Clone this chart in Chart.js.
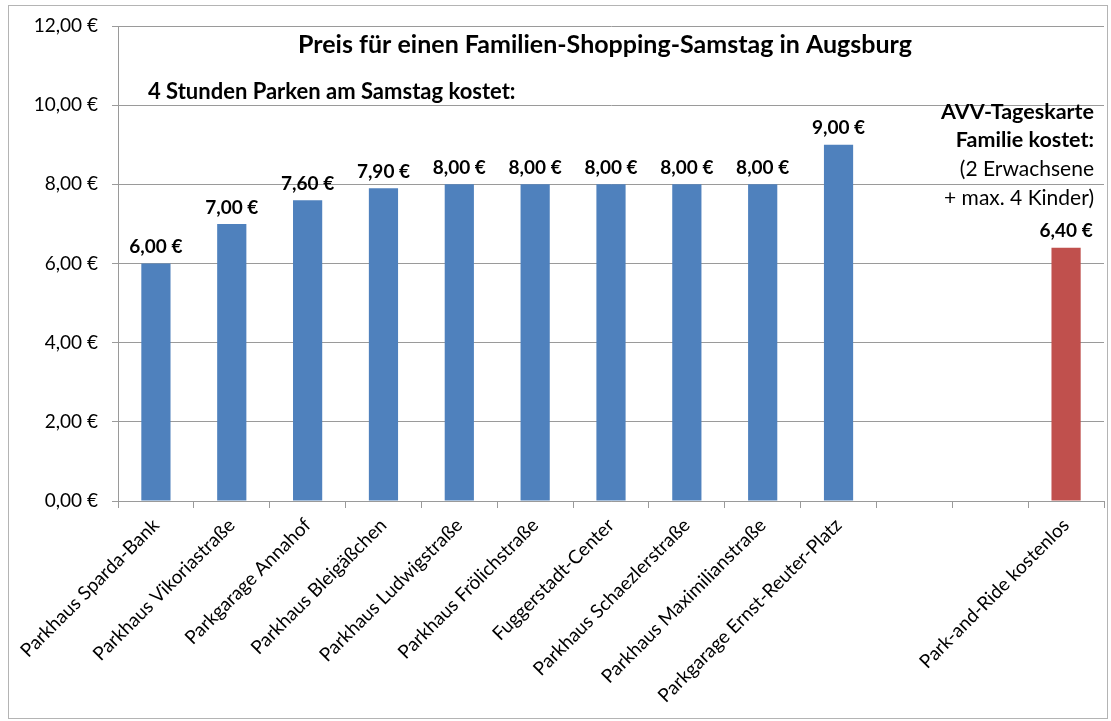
<!DOCTYPE html>
<html lang="de">
<head>
<meta charset="utf-8">
<title>Preis für einen Familien-Shopping-Samstag in Augsburg</title>
<script src="https://cdn.jsdelivr.net/npm/chart.js@4.4.1/dist/chart.umd.min.js"></script>
<style>
    html, body { margin: 0; padding: 0; background: #fff; }
    #wrap { width: 1111px; height: 721px; }
</style>
</head>
<body>
<div id="wrap"><canvas id="priceChart" width="1111" height="721"></canvas></div>
<script>
// Daten
const categories = [
    'Parkhaus Sparda-Bank', 'Parkhaus Vikoriastraße', 'Parkgarage Annahof',
    'Parkhaus Bleigäßchen', 'Parkhaus Ludwigstraße', 'Parkhaus Frölichstraße',
    'Fuggerstadt-Center', 'Parkhaus Schaezlerstraße', 'Parkhaus Maximilianstraße',
    'Parkgarage Ernst-Reuter-Platz', '', '', 'Park-and-Ride kostenlos',
];
const parkingPrices = [6.00, 7.00, 7.60, 7.90, 8.00, 8.00, 8.00, 8.00, 8.00, 9.00, null, null, null];
const ticketPrices = [null, null, null, null, null, null, null, null, null, null, null, null, 6.40];
const yTicks = [0, 2, 4, 6, 8, 10, 12];

const FONT = 'Lato, "Open Sans", sans-serif';
const euro = v => v.toFixed(2).replace('.', ',') + ' €';

// Rahmen + weißer Hintergrund
const framePlugin = {
    id: 'frame',
    beforeDraw(chart) {
        const ctx = chart.ctx;
        ctx.save();
        ctx.fillStyle = '#ffffff';
        ctx.fillRect(0, 0, chart.width, chart.height);
        ctx.strokeStyle = '#b4b4b4';
        ctx.lineWidth = 1;
        ctx.strokeRect(8.5, 5.5, 1099, 713);
        ctx.restore();
    },
};

// Werte über den Balken
const valueLabels = {
    id: 'valueLabels',
    afterDatasetsDraw(chart) {
        const ctx = chart.ctx;
        ctx.save();
        ctx.font = 'bold 19px ' + FONT;
        ctx.fillStyle = '#000';
        ctx.textAlign = 'center';
        ctx.textBaseline = 'bottom';
        chart.data.datasets.forEach((ds, i) => {
            chart.getDatasetMeta(i).data.forEach((bar, j) => {
                const v = ds.data[j];
                if (v == null) return;
                ctx.fillText(euro(v), bar.x, bar.y - 7);
            });
        });
        ctx.restore();
    },
};

// Titel und Beschriftungen im Diagramm
const notes = {
    id: 'notes',
    afterDraw(chart) {
        const ctx = chart.ctx;
        ctx.save();
        ctx.fillStyle = '#000';
        ctx.textBaseline = 'middle';

        ctx.font = 'bold 25px ' + FONT;
        ctx.textAlign = 'center';
        ctx.fillText('Preis für einen Familien-Shopping-Samstag in Augsburg', 605, 45);

        ctx.font = 'bold 22px ' + FONT;
        ctx.textAlign = 'left';
        ctx.fillText('4 Stunden Parken am Samstag kostet:', 148, 92);

        ctx.font = 'bold 21.5px ' + FONT;
        ctx.textAlign = 'right';
        ctx.fillText('AVV-Tageskarte', 1094, 112);
        ctx.fillText('Familie kostet:', 1094, 140);
        ctx.font = '21px ' + FONT;
        ctx.fillText('(2 Erwachsene', 1094, 169);
        ctx.fillText('+ max. 4 Kinder)', 1094, 198);
        ctx.restore();
    },
};

new Chart(document.getElementById('priceChart'), {
    type: 'bar',
    data: {
        labels: categories,
        datasets: [
            {
                label: '4 Stunden Parken',
                data: parkingPrices,
                backgroundColor: '#4f81bd',
                categoryPercentage: 1,
                barPercentage: 0.385,
            },
            {
                label: 'AVV-Tageskarte Familie',
                data: ticketPrices,
                backgroundColor: '#c0504d',
                categoryPercentage: 1,
                barPercentage: 0.385,
            },
        ],
    },
    options: {
        responsive: false,
        animation: false,
        layout: { padding: { left: 0, top: 26, right: 7, bottom: 0 } },
        plugins: {
            legend: { display: false },
            tooltip: { enabled: false },
        },
        scales: {
            x: {
                stacked: true,
                afterFit: s => { s.height = 220; },
                grid: { drawOnChartArea: false, drawTicks: true, tickLength: 7, color: '#9a9a9a' },
                border: { color: '#9a9a9a' },
                ticks: {
                    autoSkip: false,
                    maxRotation: 45,
                    minRotation: 45,
                    padding: 6,
                    color: '#000',
                    font: { family: FONT, size: 19 },
                },
            },
            y: {
                min: 0,
                max: 12,
                afterFit: s => { s.width = 118; },
                afterBuildTicks: s => { s.ticks = yTicks.map(v => ({ value: v })); },
                grid: { color: '#9a9a9a', tickLength: 6 },
                border: { color: '#9a9a9a' },
                ticks: {
                    padding: 14,
                    color: '#000',
                    font: { family: FONT, size: 19 },
                    callback: v => euro(v),
                },
            },
        },
    },
    plugins: [framePlugin, valueLabels, notes],
});
</script>
</body>
</html>
